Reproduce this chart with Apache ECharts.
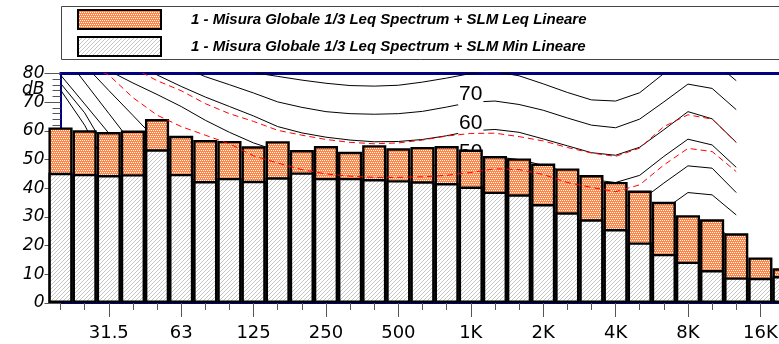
<!DOCTYPE html>
<html><head><meta charset="utf-8">
<script src="https://cdn.jsdelivr.net/npm/echarts@6/dist/echarts.min.js"></script>
<style>html,body{margin:0;padding:0;background:#fff}#c{width:779px;height:344px}</style>
</head><body><div id="c"></div>
<script>
// ---- data ----
const bands = ['20','25','31.5','40','50','63','80','100','125','160','200','250','315','400','500','630','800','1K','1.25K','1.6K','2K','2.5K','3.15K','4K','5K','6.3K','8K','10K','12.5K','16K','20K'];
const octaveLabels = ['31.5','63','125','250','500','1K','2K','4K','8K','16K'];
const legendNames = ['1 - Misura Globale 1/3 Leq Spectrum + SLM Leq Lineare','1 - Misura Globale 1/3 Leq Spectrum + SLM Min Lineare'];
const leqValues = [61.2,60.2,59.6,60.1,64.1,58.3,56.8,56.5,54.6,56.4,53.3,54.7,52.7,55.0,53.9,54.4,54.7,53.5,51.2,50.4,48.6,46.9,44.6,42.2,39.2,35.3,30.6,29.2,24.3,15.9,12.1];
const minValues = [45.4,45.0,44.6,44.9,53.6,45.0,42.5,43.6,42.6,43.8,45.5,43.6,43.6,43.2,42.8,42.4,41.8,40.6,38.8,37.9,34.5,31.6,29.2,25.8,21.1,17.1,14.4,11.5,8.9,8.8,9.4];
// equal-loudness contours (20 Hz .. 12.5 kHz)
const phon80 = [null,null,null,null,null,null,88,84,80.3,79.0,77.7,76.6,75.8,75.6,75.9,77.0,78.4,80.0,80.6,79.2,76.4,73.4,70.8,70.4,73.3,80.0,86.0,84.5,77.5];
const phon70 = [null,null,null,null,87,82.5,78.9,76.1,73.2,70.1,68.2,66.7,66.0,65.8,66.0,66.8,68.3,70.0,70.4,69.2,67.2,64.5,62.0,61.1,64.1,70.1,76.3,74.8,67.4];
const phon60 = [null,null,null,85,79.5,75.5,71.8,68.5,65.2,61.5,59.3,57.8,56.8,56.2,56.3,57.0,58.3,60.0,60.5,59.5,57.2,54.8,52.4,51.5,54.3,60.4,66.7,64.2,56.0];
const phon50 = [null,90,81,76.7,72.7,68.5,63.7,59.5,55.8,53.0,50.5,48.7,47.3,46.6,46.7,47.3,48.5,50.0,51.0,50.0,48.0,45.5,43.0,42.0,44.5,51.1,57.1,55.1,47.3];
const phon40 = [92,83,74.1,65.4,56.6,50.5,46.5,44,42.3,41,40,39.2,38.5,38.0,37.8,38.2,39,40,41.5,40.5,38.5,36,33.5,32.5,35.5,41.8,47.8,47.0,38.5];
const phon30 = [88,77,66.1,55.2,50,45,41,38,36,34.5,33,32,31,30.5,30.3,30.5,31.2,32,33.5,32,29.5,27,24.5,23.5,26,32.5,38.5,37.7,30.7];
const phon20 = [79.5,69.4,59.2,50,44,39,35,31.5,28.5,26.5,25,23.5,22.5,22,21.8,22,22.8,24,25.5,24,21.5,18.5,16,15,17.5,23,29,28,21];
const phon10 = [76.6,66.3,52,42,36,31,27,23.5,20.5,18.5,16.5,15,14,13.5,13.2,13.3,14,15,16,14.5,12,9,6.5,5.5,8,13.5,19.5,18.5,12];
const phon0  = [74.3,62,46,36,29,23,18.5,14.5,11.5,9,7,5.5,4.5,4,3.8,4,4.5,5,5.5,4,1.5,-1,-3,-3.5,-1,4,10,11,9];
const redCurve1 = [null,null,88,82,77.5,74,69.5,66,63.3,60.2,58.5,57,56,55.5,55.8,56.8,58.2,59.1,59.2,58,56.5,54.2,52.3,51.1,54.0,61.5,65.6,64.1,56.0];
const redCurve2 = [null,83,79.5,71.6,65.5,61.5,58.5,55.5,51.3,48.8,46.5,45,44.2,43.8,43.8,44,44.5,45.5,46.8,46.5,44.8,42,40.3,38.8,41.2,48.1,53.9,52.8,45.8];
const contourTags = ['80','70','60','50','40','30','20','10','0'];
const shownTags = ['70','60','50'];

// ---- patterns ----
function orangeCanvas(){
  const c=document.createElement('canvas'); c.width=4; c.height=4;
  const g=c.getContext('2d'); g.fillStyle='#FF8646'; g.fillRect(0,0,4,4);
  g.fillStyle='#FFFFFF'; g.fillRect(0,0,1,1); g.fillRect(2,0,1,1); g.fillRect(1,2,1,1); g.fillRect(3,2,1,1);
  return c;
}
function greyCanvas(){
  const c=document.createElement('canvas'); c.width=4; c.height=4;
  const g=c.getContext('2d'); g.fillStyle='#FFFFFF'; g.fillRect(0,0,4,4);
  g.fillStyle='#C4C4C4'; g.fillRect(0,3,1,1); g.fillRect(1,2,1,1); g.fillRect(2,1,1,1); g.fillRect(3,0,1,1);
  return c;
}
const oPat = {image: orangeCanvas(), repeat:'repeat'};
const gPat = {image: greyCanvas(), repeat:'repeat'};

const labelIdx = bands.indexOf('1K');
const chart = echarts.init(document.getElementById('c'), null, {renderer:'canvas', width:779, height:344});

function contour(vals, tag){
  return {
    type:'line', xAxisIndex:0, yAxisIndex:0, z:1, silent:true, animation:false,
    data: vals.map((v,i)=> (i===labelIdx && shownTags.includes(tag)) ? {value:v, label:{show:true, formatter:tag}} : v),
    symbol:'circle', symbolSize:0, showSymbol:true, showAllSymbol:true,
    lineStyle:{color:'#000', width:1}, itemStyle:{color:'#000'},
    label:{show:false, position:'top', distance:-3, fontFamily:'Liberation Sans', fontSize:21, lineHeight:21,
      color:'#000', backgroundColor:'#fff', padding:[0,1,0,1]},
    emphasis:{disabled:true}
  };
}
function redLine(vals){
  return {type:'line', xAxisIndex:0, yAxisIndex:0, z:6, silent:true, animation:false, data: vals,
    symbol:'none', lineStyle:{color:'#FF0000', width:1, type:[6,4]}, emphasis:{disabled:true}};
}
const blacks = [phon80,phon70,phon60,phon50,phon40,phon30,phon20,phon10,phon0];
const series = blacks.map((v,k)=>contour(v, contourTags[k]));
series.push({type:'bar', name:legendNames[0], xAxisIndex:0, data:leqValues, barWidth:'100%', barGap:'-100%', z:3,
  itemStyle:{color:oPat, borderColor:'#000', borderWidth:2.4}, silent:true, animation:false});
series.push({type:'bar', name:legendNames[1], xAxisIndex:0, data:minValues, barWidth:'100%', barGap:'-100%', z:4,
  itemStyle:{color:gPat, borderColor:'#000', borderWidth:2.4}, silent:true, animation:false});
series.push(redLine(redCurve1));
series.push(redLine(redCurve2));

const tickCol = '#555';
chart.setOption({
  animation:false,
  backgroundColor:'#fff',
  grid:{left:60.5, right:-5.5, top:73.5, bottom:41, containLabel:false, outerBoundsMode:'none'},
  xAxis:[
    {type:'category', data:bands, boundaryGap:false, position:'bottom',
     axisLine:{show:true, lineStyle:{color:'#000080', width:1}},
     axisTick:{show:true, interval:0, length:7, lineStyle:{color:tickCol, width:1}},
     axisLabel:{show:false}, splitLine:{show:false}},
    {type:'category', data:bands, boundaryGap:false, position:'bottom',
     axisLine:{show:false},
     axisTick:{show:true, interval:(i,v)=>octaveLabels.includes(v), length:14, lineStyle:{color:tickCol, width:1}},
     axisLabel:{show:true, interval:(i,v)=>octaveLabels.includes(v), margin:21, fontFamily:'DejaVu Sans', fontSize:18, color:'#000', hideOverlap:false},
     splitLine:{show:false}},
    {type:'category', data:bands, boundaryGap:false, position:'top',
     axisLine:{show:true, lineStyle:{color:'#000080', width:3}},
     axisTick:{show:false}, axisLabel:{show:false}, splitLine:{show:false}}
  ],
  yAxis:{type:'value', min:0, max:80, interval:10,
    axisLine:{show:true, lineStyle:{color:'#000080', width:2}},
    axisTick:{show:true, inside:false, length:16, lineStyle:{color:tickCol, width:1}},
    minorTick:{show:true, splitNumber:5, length:8, lineStyle:{color:tickCol, width:1}},
    splitLine:{show:false}, minorSplitLine:{show:false},
    axisLabel:{margin:16, fontFamily:'DejaVu Sans', fontStyle:'italic', fontSize:17, color:'#000', padding:[4,0,0,0]}},
  series: series
});

const yDb = chart.convertToPixel({yAxisIndex:0}, 75) + 2;
const xLab = chart.convertToPixel({xAxisIndex:0}, 0) - 16;
const legendFont = {fontFamily:'Liberation Sans', fontStyle:'italic', fontWeight:'bold', fontSize:15, fill:'#000', verticalAlign:'middle', align:'left'};
chart.setOption({graphic:[
  {type:'rect', id:'lgbox', silent:true, z:10, shape:{x:61.5, y:6.5, width:720, height:53}, style:{fill:'none', stroke:'#444', lineWidth:1}},
  {type:'rect', id:'sw1', silent:true, z:10, shape:{x:78, y:10, width:83, height:19}, style:{fill:oPat, stroke:'#000', lineWidth:2}},
  {type:'rect', id:'sw2', silent:true, z:10, shape:{x:78, y:37, width:83, height:19}, style:{fill:gPat, stroke:'#000', lineWidth:2}},
  {type:'text', id:'lt1', silent:true, z:10, x:191, y:19.5, style:Object.assign({text:legendNames[0]}, legendFont)},
  {type:'text', id:'lt2', silent:true, z:10, x:191, y:46.5, style:Object.assign({text:legendNames[1]}, legendFont)},
  {type:'text', id:'db', silent:true, z:10, x:xLab, y:yDb, style:{text:'dB', fontFamily:'DejaVu Sans', fontStyle:'italic', fontSize:17, fill:'#000', verticalAlign:'middle', align:'right'}}
]});
</script></body></html>
